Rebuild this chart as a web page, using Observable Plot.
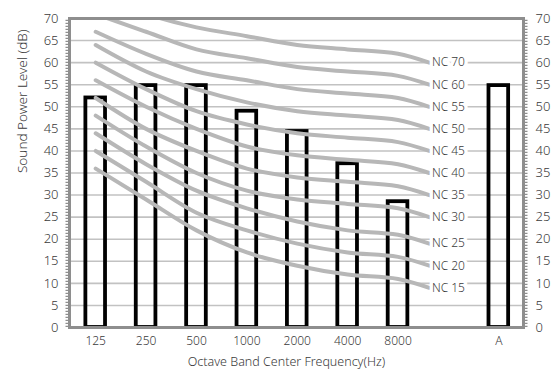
<!DOCTYPE html>
<html>
<head>
<meta charset="utf-8">
<script src="https://cdn.jsdelivr.net/npm/d3@7"></script>
<script src="https://cdn.jsdelivr.net/npm/@observablehq/plot@0.6"></script>
<style>
  html, body { margin: 0; padding: 0; background: #fff; }
  #chart svg { display: block; }
</style>
</head>
<body>
<div id="chart"></div>
<script>
// Bars: octave band sound power levels
const categories = ["125", "250", "500", "1000", "2000", "4000", "8000", "A"];
const slots = [0, 1, 2, 3, 4, 5, 6, 8];          // slot 7 holds the NC labels
const levels = [52, 54.8, 54.8, 49, 44.4, 37.1, 28.5, 54.8];

// NC curves (values at 125 ... 8000 Hz)
const ncLabels = ["NC 70", "NC 60", "NC 55", "NC 50", "NC 45", "NC 40", "NC 35", "NC 30", "NC 25", "NC 20", "NC 15"];
const ncValues = [
  [75, 71, 68, 66, 64, 63, 62],
  [71, 67, 63, 61, 59, 58, 57],
  [67, 62, 58, 56, 54, 53, 52],
  [64, 58, 54, 51, 49, 48, 47],
  [60, 54, 49, 46, 44, 43, 42],
  [56, 50, 45, 41, 39, 38, 37],
  [52, 45, 40, 36, 34, 33, 32],
  [48, 41, 35, 31, 29, 28, 27],
  [44, 37, 31, 27, 24, 22, 21],
  [40, 33, 26, 22, 19, 17, 16],
  [36, 29, 22, 17, 14, 12, 11]
];
const ncLabelLevels = [60, 55, 50, 45, 40, 35, 30, 25, 19, 14, 9];

const yTicks = [0, 5, 10, 15, 20, 25, 30, 35, 40, 45, 50, 55, 60, 65, 70];
const gridTicks = [5, 10, 15, 20, 25, 30, 35, 40, 45, 50, 55, 60, 65];
const labelSlot = 7;
const curveEnd = 6.62;

const bars = categories.map((c, i) => ({cat: c, slot: slots[i], v: levels[i]}));
const curvePts = [];
ncValues.forEach((vals, i) => {
  vals.forEach((v, j) => curvePts.push({k: ncLabels[i], x: j, y: v}));
  curvePts.push({k: ncLabels[i], x: curveEnd, y: ncLabelLevels[i]});
});
const labels = ncLabels.map((t, i) => ({t, y: ncLabelLevels[i]}));
const xDomain = [-0.52, 8.49];

const chart = Plot.plot({
  width: 556,
  height: 373,
  marginLeft: 69,
  marginRight: 33,
  marginTop: 18,
  marginBottom: 46,
  style: {fontFamily: "'Noto Sans', sans-serif", fontSize: "12px", fontWeight: 300, color: "#3a3a3a", background: "#fff"},
  x: {type: "linear", domain: xDomain},
  y: {domain: [0, 70]},
  marks: [
    Plot.ruleY(gridTicks, {stroke: "#c2c2c2", strokeWidth: 1.6}),
    Plot.rect(bars, {x1: d => d.slot - 0.195, x2: d => d.slot + 0.195, y1: 0, y2: "v",
      fill: "none", stroke: "#000", strokeWidth: 3.8}),
    Plot.line(curvePts, {x: "x", y: "y", z: "k", curve: "monotone-x", clip: true,
      stroke: "#b7b7b7", strokeWidth: 4}),
    Plot.text(labels, {x: () => labelSlot, y: "y", text: "t", fill: "#3a3a3a",
      stroke: "#fff", strokeWidth: 7, fontSize: 12, fontWeight: 300}),
    Plot.frame({stroke: "#8e8e8e", strokeWidth: 3}),
    Plot.ruleX([xDomain[0]], {y1: 0, y2: 70, dx: -2.5, stroke: "#8e8e8e", strokeWidth: 3, strokeDasharray: "1.2,1.8"}),
    Plot.ruleX([xDomain[1]], {y1: 0, y2: 70, dx: 2.5, stroke: "#8e8e8e", strokeWidth: 3, strokeDasharray: "1.2,1.8"}),
    Plot.axisY({anchor: "left", ticks: yTicks, tickSize: 0, tickPadding: 11, label: null, fontSize: 13}),
    Plot.axisY({anchor: "right", ticks: yTicks, tickSize: 0, tickPadding: 12, label: null, fontSize: 13}),
    Plot.axisX({ticks: slots, tickFormat: (d) => categories[slots.indexOf(d)], tickSize: 0, tickPadding: 9, label: null}),
    Plot.text(["Octave Band Center Frequency(Hz)"], {frameAnchor: "bottom", dy: 38, dx: -10, fill: "#3a3a3a", fontSize: 12.5, fontWeight: 300}),
    Plot.text(["Sound Power Level (dB)"], {frameAnchor: "left", rotate: -90, dx: -47, fill: "#3a3a3a", fontSize: 13.5, fontWeight: 300})
  ]
});
document.getElementById("chart").appendChild(chart);
</script>
</body>
</html>
